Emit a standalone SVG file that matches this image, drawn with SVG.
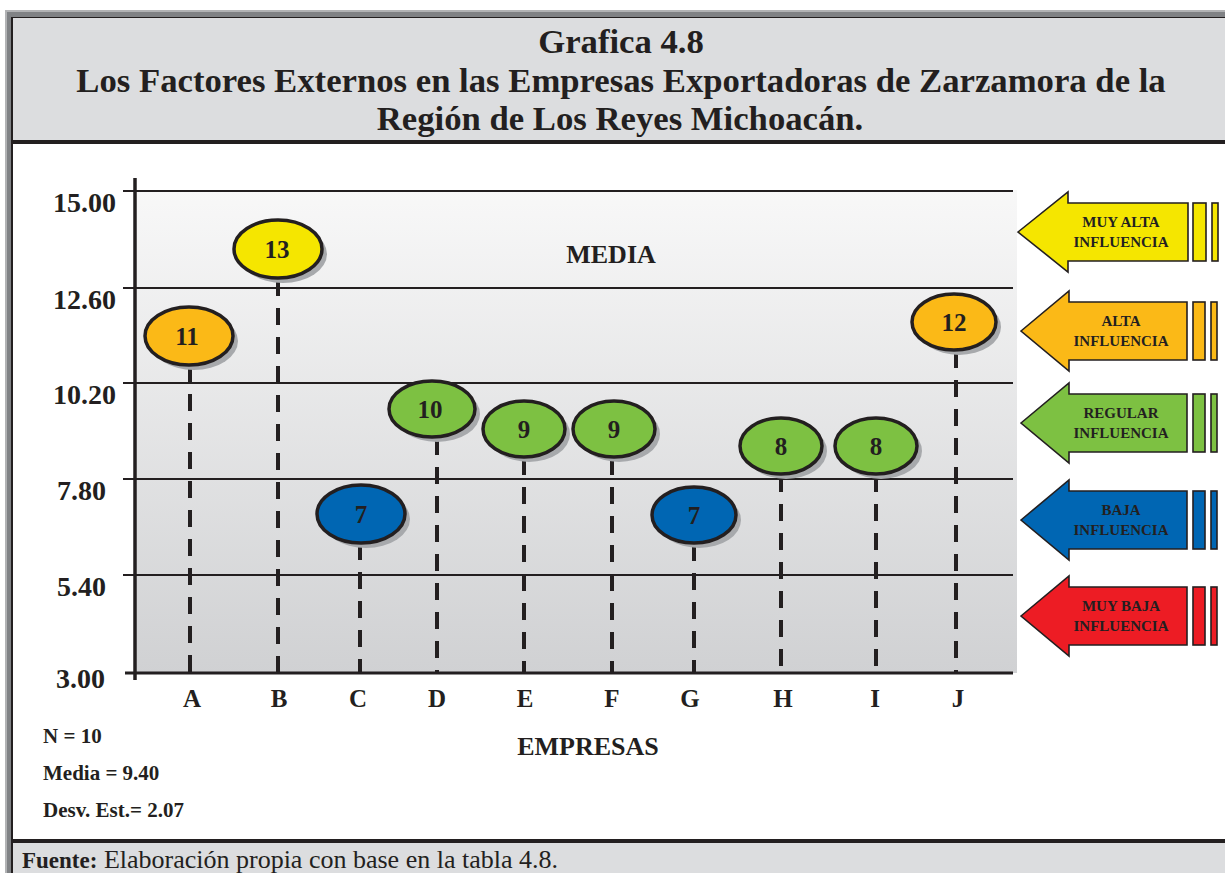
<svg xmlns="http://www.w3.org/2000/svg" width="1225" height="873" viewBox="0 0 1225 873">
<defs>
<linearGradient id="plotbg" x1="0" y1="0" x2="0" y2="1">
<stop offset="0" stop-color="#f8f8f8"/>
<stop offset="1" stop-color="#d0d1d3"/>
</linearGradient>
<style>
text{font-family:"Liberation Serif","Times New Roman",serif;font-weight:bold;fill:#231f20}
.title{font-size:34.7px;text-anchor:middle}
.ylab{font-size:28px;text-anchor:end}
.xlab{font-size:25px;text-anchor:middle}
.stat{font-size:21px}
.num{font-size:25px;text-anchor:middle}
.alab{font-size:15px;text-anchor:middle}
.grid{stroke:#231f20;stroke-width:1.8}
.stem{stroke:#231f20;stroke-width:4;stroke-dasharray:17 12;fill:none}
.pt{stroke:#231f20;stroke-width:3.5}
.sh{fill:#a7a9ac}
.arr{stroke:#231f20;stroke-width:1.6}
.yel{fill:#f5e600}
.ora{fill:#fbb917}
.grn{fill:#7dc142}
.blu{fill:#0066b3}
.red{fill:#ed1c24}
</style>
</defs>
<g id="frame">
<rect x="0" y="0" width="1225" height="873" fill="#ffffff"/>
<rect x="5" y="10" width="1220" height="863" fill="#b2b3b5"/>
<rect x="7" y="12" width="1218" height="861" fill="#808285"/>
<rect x="11" y="17" width="1214" height="856" fill="#231f20"/>
<rect x="13" y="18" width="1212" height="122" fill="#dcdddf"/>
<rect x="13" y="144" width="1212" height="695" fill="#ffffff"/>
<rect x="13" y="843" width="1212" height="30" fill="#dcdddf"/>
</g>
<g id="title">
<text class="title" x="621" y="53">Grafica 4.8</text>
<text class="title" x="621" y="92">Los Factores Externos en las Empresas Exportadoras de Zarzamora de la</text>
<text class="title" x="620" y="130">Región de Los Reyes Michoacán.</text>
</g>
<g id="plot">
<rect x="135" y="190" width="882" height="483" fill="url(#plotbg)"/>
<line class="grid" x1="123" y1="191" x2="1013" y2="191"/>
<line class="grid" x1="123" y1="288" x2="1013" y2="288"/>
<line class="grid" x1="123" y1="383" x2="1013" y2="383"/>
<line class="grid" x1="123" y1="479" x2="1013" y2="479"/>
<line class="grid" x1="123" y1="575" x2="1013" y2="575"/>
<line x1="125" y1="673" x2="1013" y2="673" stroke="#231f20" stroke-width="3"/>
<line x1="135" y1="178" x2="135" y2="680" stroke="#231f20" stroke-width="3.5"/>
<text class="ylab" x="116" y="212">15.00</text>
<text class="ylab" x="116" y="309">12.60</text>
<text class="ylab" x="116" y="404">10.20</text>
<text class="ylab" x="106" y="500">7.80</text>
<text class="ylab" x="106" y="596">5.40</text>
<text class="ylab" x="105" y="688">3.00</text>
<text x="611" y="263" style="font-size:26px;text-anchor:middle">MEDIA</text>
<text class="xlab" x="192" y="707">A</text>
<text class="xlab" x="279" y="707">B</text>
<text class="xlab" x="358" y="707">C</text>
<text class="xlab" x="437" y="707">D</text>
<text class="xlab" x="525" y="707">E</text>
<text class="xlab" x="612" y="707">F</text>
<text class="xlab" x="690" y="707">G</text>
<text class="xlab" x="783" y="707">H</text>
<text class="xlab" x="875" y="707">I</text>
<text class="xlab" x="958" y="707">J</text>
<text x="588" y="755" style="font-size:26px;text-anchor:middle">EMPRESAS</text>
<text class="stat" x="43" y="743">N = 10</text>
<text class="stat" x="43" y="780">Media = 9.40</text>
<text class="stat" x="43" y="817">Desv. Est.= 2.07</text>
</g>
<g id="connectors">
<line class="stem" x1="190" y1="365" x2="190" y2="673"/>
<line class="stem" x1="278" y1="279" x2="278" y2="673"/>
<line class="stem" x1="360" y1="543" x2="360" y2="673"/>
<line class="stem" x1="437" y1="438" x2="437" y2="673"/>
<line class="stem" x1="524" y1="458" x2="524" y2="673"/>
<line class="stem" x1="612" y1="458" x2="612" y2="673"/>
<line class="stem" x1="694" y1="544" x2="694" y2="673"/>
<line class="stem" x1="781" y1="475" x2="781" y2="673"/>
<line class="stem" x1="876" y1="475" x2="876" y2="673"/>
<line class="stem" x1="956" y1="351" x2="956" y2="673"/>
</g>
<g id="point-A"><ellipse class="sh" cx="194" cy="341" rx="44" ry="29"/><ellipse class="pt ora" cx="189" cy="336" rx="44" ry="29"/><text class="num" x="187" y="345">11</text></g>
<g id="point-B"><ellipse class="sh" cx="283" cy="254" rx="44" ry="29"/><ellipse class="pt yel" cx="278" cy="249" rx="44" ry="29"/><text class="num" x="277" y="258">13</text></g>
<g id="point-C"><ellipse class="sh" cx="366" cy="519" rx="44" ry="29"/><ellipse class="pt blu" cx="361" cy="514" rx="44" ry="29"/><text class="num" x="361" y="523">7</text></g>
<g id="point-D"><ellipse class="sh" cx="437" cy="414" rx="43" ry="28"/><ellipse class="pt grn" cx="432" cy="409" rx="43" ry="28"/><text class="num" x="430" y="418">10</text></g>
<g id="point-E"><ellipse class="sh" cx="529" cy="434" rx="41" ry="28"/><ellipse class="pt grn" cx="524" cy="429" rx="41" ry="28"/><text class="num" x="524" y="438">9</text></g>
<g id="point-F"><ellipse class="sh" cx="619" cy="434" rx="41" ry="28"/><ellipse class="pt grn" cx="614" cy="429" rx="41" ry="28"/><text class="num" x="614" y="438">9</text></g>
<g id="point-G"><ellipse class="sh" cx="699" cy="520" rx="42" ry="28"/><ellipse class="pt blu" cx="694" cy="515" rx="42" ry="28"/><text class="num" x="694" y="524">7</text></g>
<g id="point-H"><ellipse class="sh" cx="786" cy="451" rx="41" ry="28"/><ellipse class="pt grn" cx="781" cy="446" rx="41" ry="28"/><text class="num" x="781" y="455">8</text></g>
<g id="point-I"><ellipse class="sh" cx="881" cy="451" rx="41" ry="28"/><ellipse class="pt grn" cx="876" cy="446" rx="41" ry="28"/><text class="num" x="876" y="455">8</text></g>
<g id="point-J"><ellipse class="sh" cx="959" cy="327" rx="42" ry="28"/><ellipse class="pt ora" cx="954" cy="322" rx="42" ry="28"/><text class="num" x="954" y="331">12</text></g>
<g id="arrow-muy-alta" transform="translate(0,232)">
<path class="arr yel" d="M1018,0 L1068,-40 L1068,-29 L1188,-29 L1188,29 L1068,29 L1068,40 Z"/>
<rect class="arr yel" x="1193" y="-29" width="13" height="58"/>
<rect class="arr yel" x="1212" y="-29" width="6" height="58"/>
<text class="alab" x="1121" y="-5">MUY ALTA</text>
<text class="alab" x="1121" y="15">INFLUENCIA</text>
</g>
<g id="arrow-alta" transform="translate(0,331)">
<path class="arr ora" d="M1021,0 L1069,-40 L1069,-29 L1187,-29 L1187,29 L1069,29 L1069,40 Z"/>
<rect class="arr ora" x="1193" y="-29" width="12" height="58"/>
<rect class="arr ora" x="1211" y="-29" width="6" height="58"/>
<text class="alab" x="1121" y="-5">ALTA</text>
<text class="alab" x="1121" y="15">INFLUENCIA</text>
</g>
<g id="arrow-regular" transform="translate(0,423)">
<path class="arr grn" d="M1021,0 L1069,-40 L1069,-29 L1187,-29 L1187,29 L1069,29 L1069,40 Z"/>
<rect class="arr grn" x="1193" y="-29" width="12" height="58"/>
<rect class="arr grn" x="1211" y="-29" width="6" height="58"/>
<text class="alab" x="1121" y="-5">REGULAR</text>
<text class="alab" x="1121" y="15">INFLUENCIA</text>
</g>
<g id="arrow-baja" transform="translate(0,520)">
<path class="arr blu" d="M1021,0 L1069,-40 L1069,-29 L1187,-29 L1187,29 L1069,29 L1069,40 Z"/>
<rect class="arr blu" x="1193" y="-29" width="12" height="58"/>
<rect class="arr blu" x="1211" y="-29" width="6" height="58"/>
<text class="alab" x="1121" y="-5">BAJA</text>
<text class="alab" x="1121" y="15">INFLUENCIA</text>
</g>
<g id="arrow-muy-baja" transform="translate(0,616)">
<path class="arr red" d="M1021,0 L1069,-40 L1069,-29 L1187,-29 L1187,29 L1069,29 L1069,40 Z"/>
<rect class="arr red" x="1193" y="-29" width="12" height="58"/>
<rect class="arr red" x="1211" y="-29" width="6" height="58"/>
<text class="alab" x="1121" y="-5">MUY BAJA</text>
<text class="alab" x="1121" y="15">INFLUENCIA</text>
</g>
<g id="footer">
<text x="22" y="868" style="font-size:23px">Fuente:<tspan style="font-weight:normal;font-size:26px"> Elaboración propia con base en la tabla 4.8.</tspan></text>
</g>
</svg>
